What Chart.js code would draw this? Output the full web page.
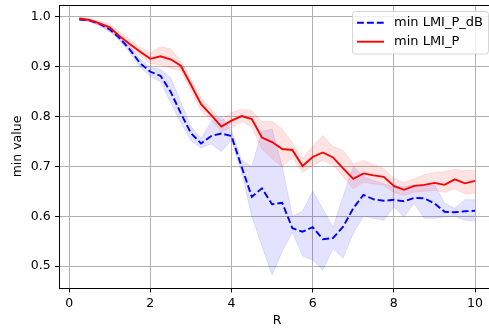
<!DOCTYPE html>
<html>
<head>
<meta charset="utf-8">
<script src="https://cdn.jsdelivr.net/npm/chart.js@4.4.0/dist/chart.umd.min.js"></script>
<style>
html,body{margin:0;padding:0;background:#fff;overflow:hidden;width:489px;height:329px;}
#wrap{position:absolute;left:0;top:0;width:500px;height:329px;}
</style>
</head>
<body>
<div id="wrap"><canvas id="c" width="500" height="329"></canvas></div>
<script>
const R = [0.25,0.5,0.75,1.0,1.25,1.5,1.75,2.0,2.25,2.5,2.75,3.0,3.25,3.5,3.75,4.0,4.25,4.5,4.75,5.0,
           5.25,5.5,5.75,6.0,6.25,6.5,6.75,7.0,7.25,7.5,7.75,8.0,8.25,8.5,8.75,9.0,9.25,9.5,9.75,10.0];

const lmiP = [0.997,0.994,0.987,0.979,0.961,0.945,0.930,0.916,0.921,0.915,0.902,0.864,0.825,0.803,0.780,0.792,0.801,0.795,0.758,0.749,
              0.735,0.733,0.701,0.719,0.728,0.718,0.696,0.675,0.686,0.682,0.679,0.661,0.653,0.661,0.663,0.667,0.663,0.674,0.666,0.671];
const lmiPUpper = [0.999,0.997,0.992,0.986,0.970,0.954,0.939,0.928,0.940,0.936,0.912,0.875,0.838,0.815,0.792,0.808,0.815,0.812,0.790,0.790,
                   0.775,0.748,0.716,0.740,0.762,0.740,0.732,0.705,0.712,0.704,0.696,0.676,0.668,0.675,0.684,0.688,0.690,0.694,0.692,0.692];
const lmiPLower = [0.995,0.991,0.982,0.972,0.954,0.937,0.922,0.906,0.904,0.897,0.892,0.852,0.812,0.792,0.770,0.778,0.790,0.780,0.735,0.715,
                   0.700,0.718,0.688,0.702,0.712,0.703,0.680,0.655,0.668,0.665,0.662,0.648,0.642,0.648,0.650,0.652,0.648,0.655,0.645,0.646];

const lmiPdB = [0.995,0.993,0.986,0.975,0.957,0.934,0.907,0.890,0.882,0.850,0.807,0.767,0.746,0.761,0.766,0.761,0.699,0.639,0.656,0.624,
                0.627,0.576,0.569,0.578,0.554,0.556,0.579,0.616,0.643,0.634,0.631,0.633,0.630,0.637,0.636,0.626,0.609,0.608,0.610,0.611];
const lmiPdBUpper = [0.997,0.995,0.989,0.979,0.962,0.941,0.915,0.899,0.895,0.878,0.830,0.780,0.756,0.790,0.800,0.772,0.712,0.700,0.770,0.775,
                     0.700,0.600,0.610,0.650,0.615,0.578,0.640,0.700,0.680,0.672,0.665,0.659,0.659,0.663,0.659,0.664,0.626,0.616,0.633,0.633];
const lmiPdBLower = [0.993,0.991,0.983,0.971,0.952,0.927,0.899,0.881,0.870,0.828,0.788,0.752,0.737,0.745,0.730,0.752,0.688,0.600,0.540,0.482,
                     0.530,0.568,0.520,0.512,0.492,0.535,0.516,0.566,0.600,0.596,0.592,0.619,0.599,0.626,0.596,0.596,0.599,0.600,0.592,0.591];

const xTicks = [0,2,4,6,8,10];
const yTicks = [0.5,0.6,0.7,0.8,0.9,1.0];
const seriesNames = ['min LMI_P_dB','min LMI_P'];

const pts = (ys) => R.map((x,i) => ({x:x, y:ys[i]}));
const FONT = 'DejaVu Sans';
const FS = 12.5;

const legendPlugin = {
  id:'mplLegend',
  afterDraw(chart){
    const ctx = chart.ctx, a = chart.chartArea;
    ctx.save();
    // top spine
    ctx.strokeStyle = '#000'; ctx.lineWidth = 1;
    ctx.beginPath(); ctx.moveTo(a.left, a.top + 0.5); ctx.lineTo(a.right, a.top + 0.5); ctx.stroke();
    // legend box
    const bx = 352.5, by = 11.5, bw = 136, bh = 42.5, r = 3;
    ctx.beginPath();
    ctx.moveTo(bx + r, by); ctx.lineTo(bx + bw - r, by); ctx.arcTo(bx + bw, by, bx + bw, by + r, r);
    ctx.lineTo(bx + bw, by + bh - r); ctx.arcTo(bx + bw, by + bh, bx + bw - r, by + bh, r);
    ctx.lineTo(bx + r, by + bh); ctx.arcTo(bx, by + bh, bx, by + bh - r, r);
    ctx.lineTo(bx, by + r); ctx.arcTo(bx, by, bx + r, by, r); ctx.closePath();
    ctx.fillStyle = 'rgba(255,255,255,0.8)'; ctx.fill();
    ctx.strokeStyle = 'rgba(204,204,204,0.8)'; ctx.lineWidth = 1; ctx.stroke();
    const rows = [
      {label: seriesNames[0], color:'#0000ff', dash:[6.9,3], y:22.7},
      {label: seriesNames[1], color:'#ff0000', dash:[], y:41.7}
    ];
    rows.forEach(rw => {
      ctx.strokeStyle = rw.color; ctx.lineWidth = 1.9; ctx.setLineDash(rw.dash);
      ctx.beginPath(); ctx.moveTo(357, rw.y); ctx.lineTo(384, rw.y); ctx.stroke();
      ctx.setLineDash([]);
      ctx.fillStyle = '#000'; ctx.font = '13px "' + FONT + '"';
      ctx.textBaseline = 'middle'; ctx.textAlign = 'left';
      ctx.fillText(rw.label, 394, rw.y);
    });
    ctx.restore();
  }
};

function zeroPad(s){ s.paddingTop = 0; s.paddingBottom = 0; s.paddingLeft = 0; s.paddingRight = 0; }

new Chart(document.getElementById('c'), {
  type:'line',
  data:{
    datasets:[
      {label:seriesNames[1], data:pts(lmiP), borderColor:'#ff0000', borderWidth:1.9, pointRadius:0, fill:false, tension:0},
      {label:seriesNames[0], data:pts(lmiPdB), borderColor:'#0000ff', borderWidth:1.9, borderDash:[6.9,3], pointRadius:0, fill:false, tension:0},
      {label:'pLower', data:pts(lmiPLower), borderColor:'rgba(255,0,0,0.1)', borderWidth:1, pointRadius:0, fill:false, tension:0},
      {label:'pUpper', data:pts(lmiPUpper), borderColor:'rgba(255,0,0,0.1)', borderWidth:1, pointRadius:0, fill:'-1', backgroundColor:'rgba(255,0,0,0.11)', tension:0},
      {label:'dbLower', data:pts(lmiPdBLower), borderColor:'rgba(0,0,255,0.1)', borderWidth:1, pointRadius:0, fill:false, tension:0},
      {label:'dbUpper', data:pts(lmiPdBUpper), borderColor:'rgba(0,0,255,0.1)', borderWidth:1, pointRadius:0, fill:'-1', backgroundColor:'rgba(0,0,255,0.11)', tension:0}
    ]
  },
  options:{
    responsive:false, animation:false, devicePixelRatio:1,
    layout:{padding:{left:0, right:5.2, top:5, bottom:0}},
    plugins:{legend:{display:false}, tooltip:{enabled:false}},
    scales:{
      x:{
        type:'linear', min:-0.2375, max:10.4875,
        afterBuildTicks(s){ s.ticks = xTicks.map(v => ({value:v})); },
        afterFit(s){ s.height = 41; zeroPad(s); },
        ticks:{font:{family:FONT, size:FS}, color:'#000', padding:3.5, maxRotation:0, callback:(v)=>String(v)},
        grid:{color:'#b0b0b0', lineWidth:1, tickColor:'#000', tickLength:4.4, tickWidth:1},
        border:{display:true, color:'#000', width:1},
        title:{display:true, text:'R', font:{family:FONT, size:FS}, color:'#000', padding:{top:0, bottom:1}}
      },
      y:{
        type:'linear', min:0.456, max:1.024,
        afterBuildTicks(s){ s.ticks = yTicks.map(v => ({value:v})); },
        afterFit(s){ s.width = 59.5; zeroPad(s); },
        ticks:{font:{family:FONT, size:FS}, color:'#000', padding:4.4, callback:(v)=>Number(v).toFixed(1)},
        grid:{color:'#b0b0b0', lineWidth:1, tickColor:'#000', tickLength:4.4, tickWidth:1},
        border:{display:true, color:'#000', width:1},
        title:{display:true, text:'min value', font:{family:FONT, size:FS}, color:'#000', padding:{top:10.5, bottom:0}}
      }
    }
  },
  plugins:[legendPlugin]
});
</script>
</body>
</html>
